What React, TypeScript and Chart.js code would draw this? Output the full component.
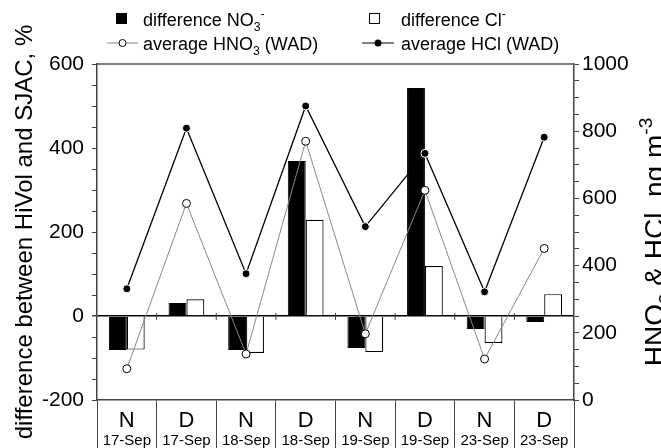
import React, { useEffect, useRef } from 'react';
import { Chart, registerables } from 'chart.js';

Chart.register(...registerables);

const FONT = '"Liberation Sans", Arial, Helvetica, sans-serif';

const periods = ['N', 'D', 'N', 'D', 'N', 'D', 'N', 'D'];
const dates = ['17-Sep', '17-Sep', '18-Sep', '18-Sep', '19-Sep', '19-Sep', '23-Sep', '23-Sep'];
const diffNO3 = [-81, 31, -81, 369, -76, 543, -31, -14];
const diffCl = [-80, 40, -88, 229, -86, 119, -64, 52];
const avgHNO3 = [93, 585, 137, 770, 197, 624, 122, 451];
const avgHCl = [331, 809, 376, 875, 516, 734, 322, 782];
const leftLabelStep = 200;
const rightLabelStep = 200;

type Seg = { t: string; s?: 'sub' | 'sup' };

function drawRich(ctx: CanvasRenderingContext2D, segs: Seg[], x: number, y: number, size: number, align: 'left' | 'center') {
  const small = size * 0.68;
  const widths = segs.map((seg) => {
    ctx.font = `${seg.s ? small : size}px ${FONT}`;
    return ctx.measureText(seg.t).width;
  });
  const total = widths.reduce((a, b) => a + b, 0);
  let cx = align === 'center' ? x - total / 2 : x;
  ctx.textAlign = 'left';
  ctx.textBaseline = 'alphabetic';
  segs.forEach((seg, i) => {
    ctx.font = `${seg.s ? small : size}px ${FONT}`;
    const dy = seg.s === 'sub' ? size * 0.28 : seg.s === 'sup' ? -size * 0.42 : 0;
    ctx.fillText(seg.t, cx, y + dy);
    cx += widths[i];
  });
}

const customPlugin = {
  id: 'customDecor',
  afterDraw(chart: any) {
    const ctx: CanvasRenderingContext2D = chart.ctx;
    const area = chart.chartArea;
    const xs = chart.scales.x;
    const ys = chart.scales.y;
    ctx.save();

    // top frame
    ctx.strokeStyle = '#555';
    ctx.lineWidth = 1.5;
    ctx.beginPath();
    ctx.moveTo(area.left, area.top);
    ctx.lineTo(area.right, area.top);
    ctx.stroke();

    // ticks on zero line at category boundaries
    const y0 = ys.getPixelForValue(0);
    ctx.strokeStyle = '#444';
    ctx.lineWidth = 1;
    for (let i = 0; i < periods.length - 1; i++) {
      const xb = (xs.getPixelForValue(i) + xs.getPixelForValue(i + 1)) / 2;
      ctx.beginPath();
      ctx.moveTo(xb, y0 - 3);
      ctx.lineTo(xb, y0 + 4);
      ctx.stroke();
    }

    // category labels
    ctx.fillStyle = '#000';
    ctx.textAlign = 'center';
    ctx.textBaseline = 'alphabetic';
    periods.forEach((p, i) => {
      const cx = xs.getPixelForValue(i);
      ctx.font = `22px ${FONT}`;
      ctx.fillText(p, cx, area.bottom + 27);
      ctx.font = `15px ${FONT}`;
      ctx.fillText(dates[i], cx, area.bottom + 45);
    });

    // left title
    ctx.save();
    ctx.translate(32, (area.top + area.bottom) / 2);
    ctx.rotate(-Math.PI / 2);
    ctx.fillStyle = '#000';
    drawRich(ctx, [{ t: 'difference between HiVol and SJAC, %' }], 0, 0, 24, 'center');
    ctx.restore();

    // right title
    ctx.save();
    ctx.translate(664, 242);
    ctx.rotate(-Math.PI / 2);
    ctx.fillStyle = '#000';
    drawRich(ctx, [{ t: 'HNO' }, { t: '3', s: 'sub' }, { t: ' & HCl, ng m' }, { t: '-3', s: 'sup' }], 0, 0, 28, 'center');
    ctx.restore();

    // legend
    const fs = 18;
    ctx.fillStyle = '#000';
    ctx.fillRect(116, 13, 11, 11);
    drawRich(ctx, [{ t: 'difference NO' }, { t: '3', s: 'sub' }, { t: '-', s: 'sup' }], 143, 26, fs, 'left');
    ctx.strokeStyle = '#000';
    ctx.lineWidth = 1;
    ctx.strokeRect(369.5, 13.5, 10, 10);
    drawRich(ctx, [{ t: 'difference Cl' }, { t: '-', s: 'sup' }], 401, 26, fs, 'left');

    // row 2
    ctx.strokeStyle = '#888';
    ctx.beginPath();
    ctx.moveTo(107, 43);
    ctx.lineTo(138, 43);
    ctx.stroke();
    ctx.beginPath();
    ctx.arc(122.5, 43, 3.5, 0, Math.PI * 2);
    ctx.fillStyle = '#fff';
    ctx.fill();
    ctx.strokeStyle = '#000';
    ctx.stroke();
    ctx.fillStyle = '#000';
    drawRich(ctx, [{ t: 'average HNO' }, { t: '3', s: 'sub' }, { t: ' (WAD)' }], 143, 50, fs, 'left');

    ctx.strokeStyle = '#000';
    ctx.beginPath();
    ctx.moveTo(362, 43);
    ctx.lineTo(394, 43);
    ctx.stroke();
    ctx.beginPath();
    ctx.arc(378, 43, 3.5, 0, Math.PI * 2);
    ctx.fillStyle = '#000';
    ctx.fill();
    drawRich(ctx, [{ t: 'average HCl (WAD)' }], 401, 50, fs, 'left');

    ctx.restore();
  },
};

export default function App() {
  const ref = useRef<HTMLCanvasElement | null>(null);
  useEffect(() => {
    if (!ref.current) return;
    const chart = new Chart(ref.current, {
      type: 'bar',
      data: {
        labels: periods.map((p, i) => `${p} ${dates[i]}`),
        datasets: [
          {
            type: 'line',
            label: 'average HCl (WAD)',
            data: avgHCl,
            yAxisID: 'y1',
            borderColor: '#000',
            borderWidth: 1.3,
            pointRadius: 4,
            pointBackgroundColor: '#000',
            pointBorderColor: '#fff',
            pointBorderWidth: 1,
            tension: 0,
            order: 0,
          } as any,
          {
            type: 'line',
            label: 'average HNO3 (WAD)',
            data: avgHNO3,
            yAxisID: 'y1',
            borderColor: '#888',
            borderWidth: 1,
            pointRadius: 4,
            pointBackgroundColor: '#fff',
            pointBorderColor: '#000',
            pointBorderWidth: 1,
            tension: 0,
            order: 1,
          } as any,
          {
            type: 'bar',
            label: 'difference NO3-',
            data: diffNO3,
            yAxisID: 'y',
            backgroundColor: '#000',
            borderColor: '#000',
            borderWidth: 1,
            categoryPercentage: 0.6,
            barPercentage: 1.0,
            order: 2,
          },
          {
            type: 'bar',
            label: 'difference Cl-',
            data: diffCl,
            yAxisID: 'y',
            backgroundColor: '#fff',
            borderColor: '#000',
            borderWidth: 1.2,
            categoryPercentage: 0.6,
            barPercentage: 1.0,
            order: 3,
          },
        ],
      },
      options: {
        responsive: false,
        animation: false,
        devicePixelRatio: 1,
        layout: { padding: { top: 64, left: 0, right: 0, bottom: 0 } },
        plugins: { legend: { display: false }, tooltip: { enabled: false }, title: { display: false } },
        scales: {
          x: {
            offset: true,
            ticks: { display: false },
            grid: { display: true, drawOnChartArea: false, drawTicks: true, tickLength: 48, color: '#444', offset: true },
            border: { display: true, color: '#444', width: 1.5 },
            afterFit: (s: any) => { s.height = 48; },
          },
          y: {
            position: 'left',
            min: -200,
            max: 600,
            ticks: {
              stepSize: 50,
              autoSkip: false,
              padding: 8,
              color: '#000',
              font: { size: 21, family: FONT },
              callback: (v: any) => (Number(v) % leftLabelStep === 0 ? String(v) : ''),
            },
            grid: {
              drawOnChartArea: true,
              drawTicks: true,
              tickLength: 5,
              tickColor: '#444',
              color: (c: any) => (c.tick && c.tick.value === 0 ? '#000' : 'rgba(0,0,0,0)'),
              lineWidth: (c: any) => (c.tick && c.tick.value === 0 ? 1.5 : 1),
            },
            border: { display: true, color: '#444', width: 1.5 },
            afterFit: (s: any) => { s.width = 97; },
          },
          y1: {
            position: 'right',
            min: 0,
            max: 1000,
            ticks: {
              stepSize: 50,
              autoSkip: false,
              padding: 3,
              color: '#000',
              font: { size: 21, family: FONT },
              callback: (v: any) => (Number(v) % rightLabelStep === 0 ? String(v) : ''),
            },
            grid: { drawOnChartArea: false, drawTicks: true, tickLength: 5, tickColor: '#444' },
            border: { display: true, color: '#444', width: 1.5 },
            afterFit: (s: any) => { s.width = 87; },
          },
        },
      } as any,
      plugins: [customPlugin],
    });
    return () => chart.destroy();
  }, []);
  return (
    <div style={{ position: 'fixed', left: 0, top: 0, width: 661, height: 448, background: '#fff' }}>
      <canvas ref={ref} width={661} height={448} />
    </div>
  );
}
